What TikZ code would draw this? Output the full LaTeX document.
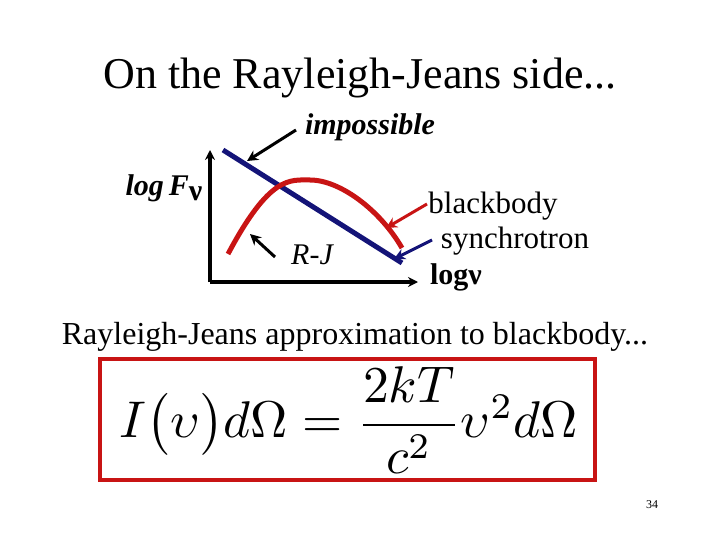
\documentclass[tikz,border=0pt]{standalone}
\usetikzlibrary{arrows.meta}
\usepackage{amsmath}
\usepackage{graphicx}
\usepackage{fontspec}
\setmainfont{Liberation Serif}
\begin{document}
\begin{tikzpicture}[x=1pt,y=-1pt,
  lab/.style={inner sep=0pt,anchor=center},
  arr/.style={line width=3pt,-{Stealth[length=11pt,width=11pt]}}]
\useasboundingbox (0,0) rectangle (720,540);
\node[lab,font=\fontsize{44}{46}\selectfont] (title) at (360,78) {On the Rayleigh-Jeans side...};
% axes
\coordinate (o) at (210,282);
\coordinate (ytop) at (210,150);
\coordinate (xend) at (418,282);
\draw[line width=3.5pt,-{Stealth[length=10pt,width=10pt]}] (o) -- (ytop);
\draw[line width=3.5pt,-{Stealth[length=10pt,width=10pt]}] (o) -- (xend);
% synchrotron line
\coordinate (b1) at (223,150);
\coordinate (b2) at (402,263);
\draw[line width=5pt,color={rgb,255:red,20;green,20;blue,120}] (b1) -- (b2);
% blackbody curve
\coordinate (r1) at (228,254);
\coordinate (r2) at (402,248);
\draw[line width=5pt,color={rgb,255:red,200;green,20;blue,20}] (r1) .. controls (270,175) and (290,180) .. (310,180) .. controls (340,180) and (380,210) .. (r2);
% labels
\node[lab,font=\fontsize{30}{32}\selectfont\bfseries\itshape] (imp) at (370,127) {impossible};
\node[lab,font=\fontsize{30}{32}\selectfont\bfseries\itshape] (logF) at (164,188) {log\,F\raisebox{-5pt}{\upshape ν}};
\node[lab,font=\fontsize{30}{32}\selectfont\itshape] (rj) at (312,255) {R-J};
\node[lab,font=\fontsize{31}{33}\selectfont] (bb) at (493,206) {blackbody};
\node[lab,font=\fontsize{31}{33}\selectfont] (syn) at (515,241) {synchrotron};
\node[lab,font=\fontsize{30}{32}\selectfont\bfseries] (lognu) at (456,277) {logν};
\coordinate (impT) at (247,161);
\coordinate (bbT) at (386,228);
\coordinate (synT) at (394,259);
\coordinate (rjT) at (250,234);
\draw[arr] (296,130) -- (impT);
\draw[arr,color={rgb,255:red,200;green,20;blue,20}] (427,204) -- (bbT);
\draw[arr,color={rgb,255:red,20;green,20;blue,120}] (432,240) -- (synT);
\draw[arr] (275,257) -- (rjT);
\node[lab,font=\fontsize{32}{34}\selectfont] (rjt) at (355,337) {Rayleigh-Jeans approximation to blackbody...};
\draw[line width=4pt,color={rgb,255:red,200;green,20;blue,20}] (100,359) rectangle (595,480);
\node[lab] (eq) at (349,420) {\resizebox{458pt}{!}{$I\big(\upsilon\big)d\Omega=\dfrac{2kT}{c^2}\upsilon^2 d\Omega$}};
\node[lab,font=\fontsize{12}{14}\selectfont] (pg) at (652,505) {34};
\end{tikzpicture}
\end{document}
